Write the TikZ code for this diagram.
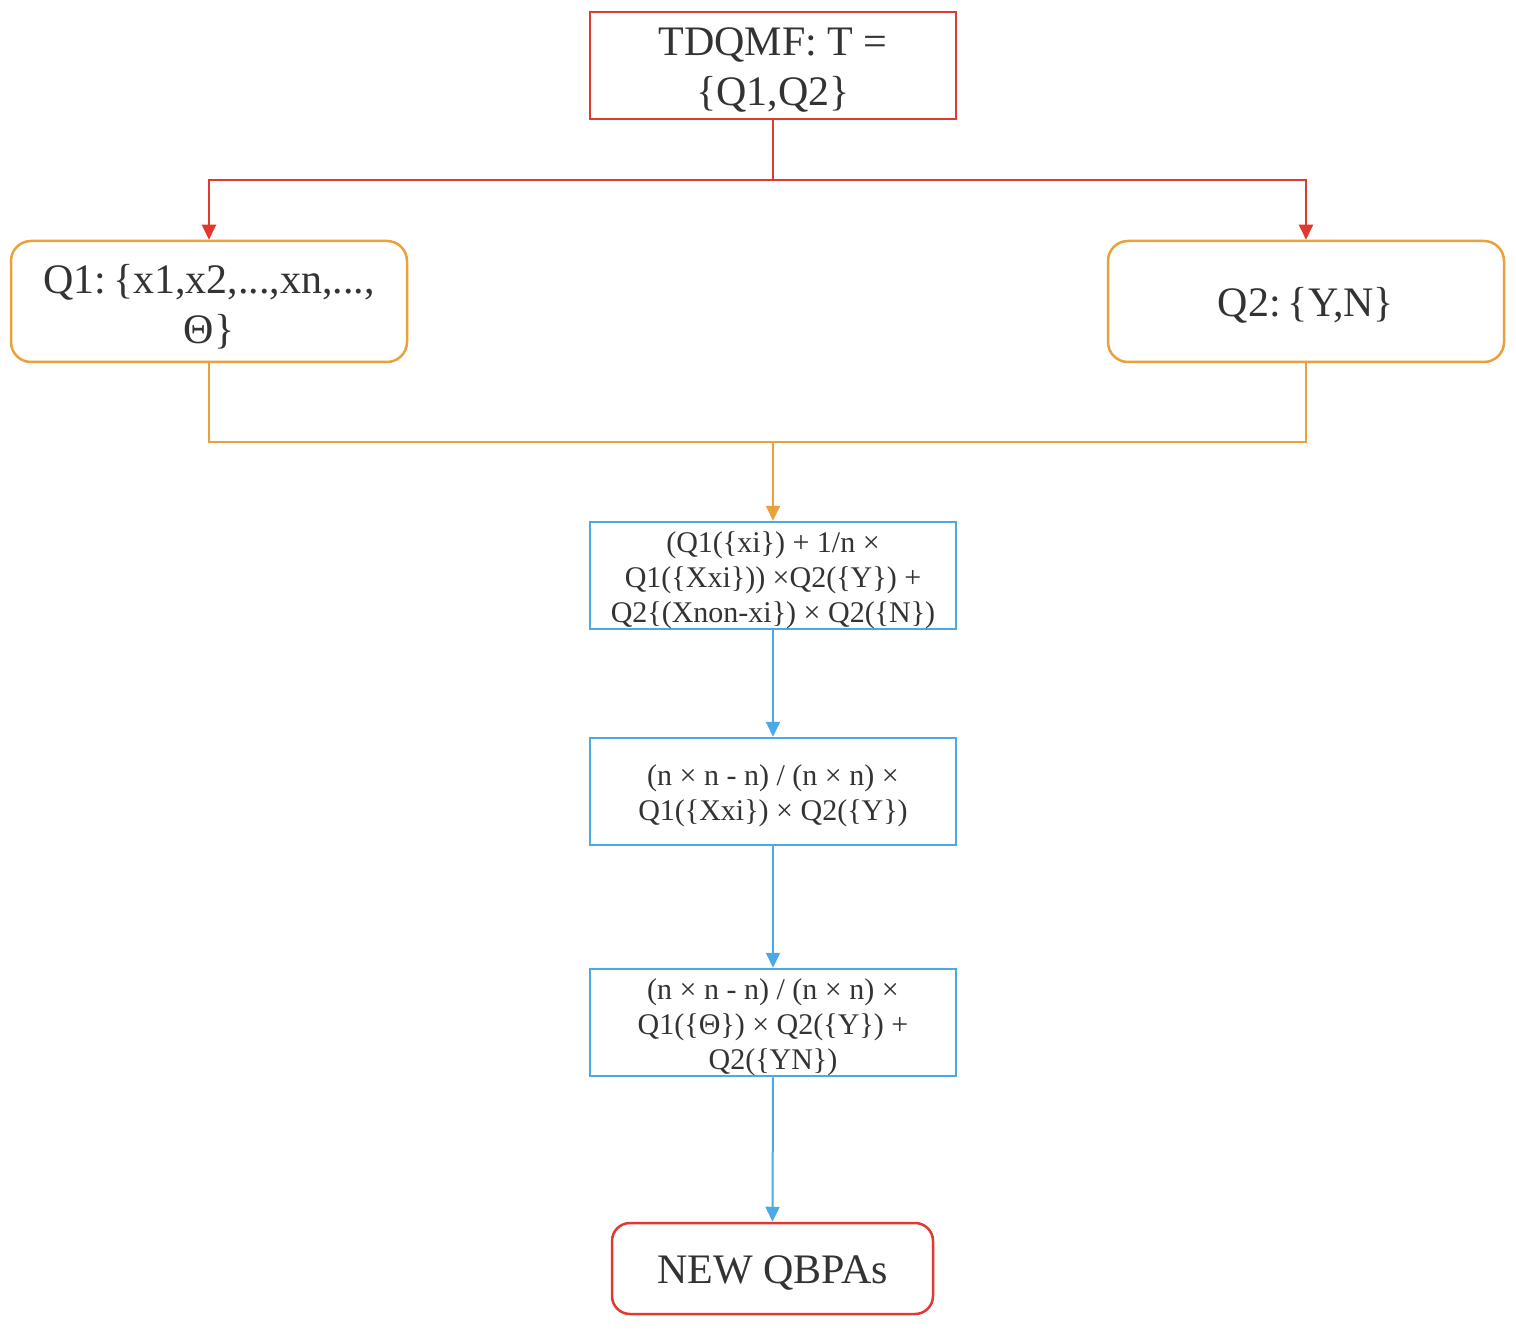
\documentclass[tikz,border=0pt]{standalone}
\usepackage{fontspec}
\setmainfont{Liberation Serif}
\usetikzlibrary{arrows.meta}
\definecolor{cred}{HTML}{E0392F}
\definecolor{corange}{HTML}{E9A23B}
\definecolor{cblue}{HTML}{4BA9E6}
\definecolor{ctext}{HTML}{333333}
\begin{document}
\begin{tikzpicture}[x=1pt,y=-1pt,
  box/.style={draw, line width=2.5pt, inner sep=0pt},
  lbl/.style={align=center, text=ctext, inner sep=0pt},
  bigtext/.style={lbl, font=\fontsize{42}{50}\selectfont},
  smalltext/.style={lbl, font=\fontsize{30}{35}\selectfont},
  redbox/.style={box, draw=cred},
  orangebox/.style={box, draw=corange, rounded corners=20pt, minimum width=396pt, minimum height=121pt},
  bluebox/.style={box, draw=cblue, minimum width=366pt, minimum height=107pt},
  conn/.style={line width=2pt},
  tip/.style={-{Triangle[length=15pt,width=14pt]}}
]
\useasboundingbox (0,0) rectangle (1516,1332);
\fill[white] (0,0) rectangle (1516,1332);

\node[redbox, minimum width=366pt, minimum height=107pt] (top) at (773,65.5) {};
\node[bigtext] (toptext) at ([yshift=-5pt]top.center) {TDQMF: T =\\\{Q1,Q2\}};
\node[orangebox] (q1) at (209,301.5) {};
\node[bigtext] (q1text) at ([yshift=-5pt]q1.center) {Q1:\,\{x1,x2,...,xn,...,\\Θ\}};
\node[orangebox] (q2) at (1306,301.5) {};
\node[bigtext] (q2text) at ([yshift=-4pt]q2.center) {Q2:\,\{Y,N\}};
\node[bluebox] (b1) at (773,575.5) {};
\node[smalltext] (b1text) at ([yshift=-5pt]b1.center) {(Q1(\{xi\}) + 1/n ×\\Q1(\{Xxi\})) ×Q2(\{Y\}) +\\Q2\{(Xnon-xi\}) × Q2(\{N\})};
\node[bluebox] (b2) at (773,791.5) {};
\node[smalltext] (b2text) at ([yshift=-4pt]b2.center) {(n × n - n) / (n × n) ×\\Q1(\{Xxi\}) × Q2(\{Y\})};
\node[bluebox] (b3) at (773,1022.5) {};
\node[smalltext] (b3text) at ([yshift=-5pt]b3.center) {(n × n - n) / (n × n) ×\\Q1(\{Θ\}) × Q2(\{Y\}) +\\Q2(\{YN\})};
\node[redbox, rounded corners=18pt, minimum width=321pt, minimum height=91pt] (end) at (772.5,1268.5) {};
\node[bigtext] (endtext) at ([yshift=-4pt]end.center) {NEW QBPAs};

\coordinate (rj) at (773,180);
\coordinate (oj) at (773,442);

\draw[conn, draw=cred] (top.south) -- (rj);
\draw[conn, draw=cred, tip] (rj) -| (q1.north);
\draw[conn, draw=cred, tip] (rj) -| (q2.north);

\draw[conn, draw=corange] (q1.south) |- (oj);
\draw[conn, draw=corange] (q2.south) |- (oj);
\draw[conn, draw=corange, tip] (oj) -- (b1.north);

\draw[conn, draw=cblue, tip] (b1.south) -- (b2.north);
\draw[conn, draw=cblue, tip] (b2.south) -- (b3.north);
\draw[conn, draw=cblue, tip] (b3.south) -- (end.north);
\end{tikzpicture}
\end{document}
